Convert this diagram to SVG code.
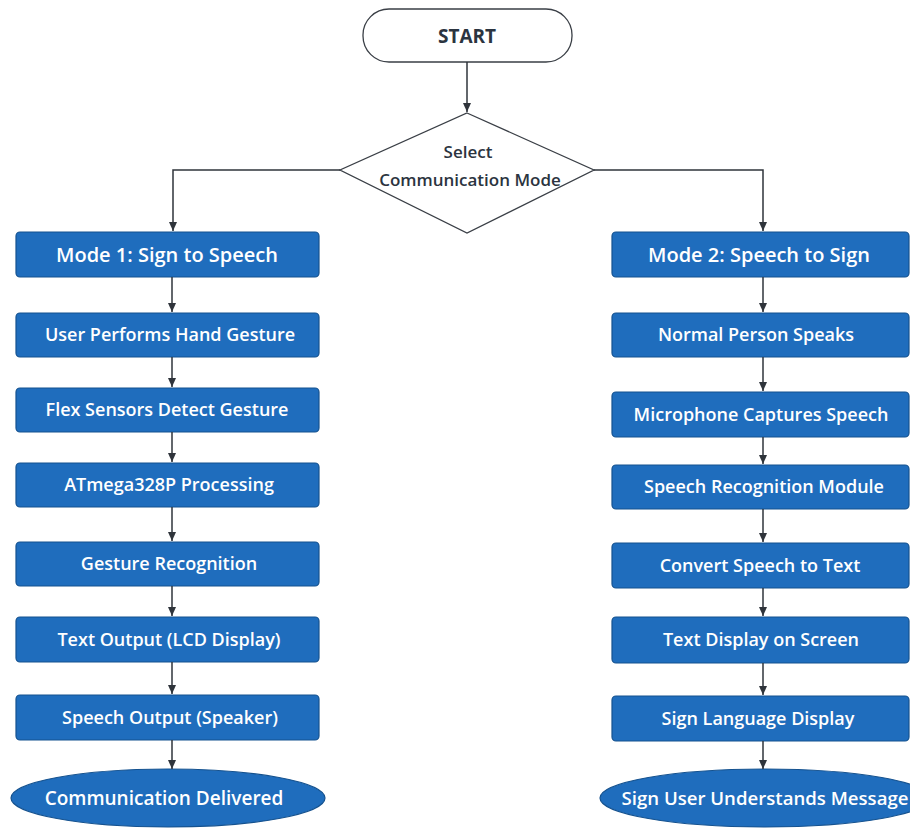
<svg xmlns="http://www.w3.org/2000/svg" width="910" height="828" viewBox="0 0 910 828">
<defs>
<marker id="arr" markerWidth="10" markerHeight="10" refX="9" refY="5" orient="auto" markerUnits="userSpaceOnUse">
<path d="M0,1 L9,5 L0,9 Z" fill="#2f343b"/>
</marker>
<style>
.box{fill:#1f6dbd;stroke:#15528f;stroke-width:1.2}
.lbl{font-family:"Open Sans","Noto Sans","Liberation Sans",sans-serif;font-weight:600;font-size:18px;fill:#ffffff;text-anchor:middle}
.hdr{font-size:20px}
.big{font-size:19px}
.dark{fill:#2b3440;font-size:17px}
.term{fill:#ffffff;stroke:#3a3f46;stroke-width:1.3}
.conn path{fill:none;stroke:#2f343b;stroke-width:1.5;marker-end:url(#arr)}
</style>
</defs>
<rect width="910" height="828" fill="#ffffff"/>
<g id="start">
<rect class="term" x="363" y="9" width="209" height="53" rx="26"/>
<text class="lbl dark" x="467" y="43" style="font-weight:700;font-size:19px">START</text>
</g>
<g id="select">
<polygon class="term" points="467,113 594,170 467,233 340,170"/>
<text class="lbl dark" x="468" y="158">Select</text>
<text class="lbl dark" x="470" y="186">Communication Mode</text>
</g>
<g id="m1">
<rect class="box" x="16" y="232" width="303" height="45" rx="4"/>
<text class="lbl hdr" x="167" y="262">Mode 1: Sign to Speech</text>
</g>
<g id="l1">
<rect class="box" x="16" y="313" width="303" height="44" rx="4"/>
<text class="lbl" x="170" y="341">User Performs Hand Gesture</text>
</g>
<g id="l2">
<rect class="box" x="16" y="388" width="303" height="44" rx="4"/>
<text class="lbl" x="167" y="416">Flex Sensors Detect Gesture</text>
</g>
<g id="l3">
<rect class="box" x="16" y="463" width="303" height="44" rx="4"/>
<text class="lbl" x="169" y="491">ATmega328P Processing</text>
</g>
<g id="l4">
<rect class="box" x="16" y="542" width="303" height="44" rx="4"/>
<text class="lbl" x="169" y="570">Gesture Recognition</text>
</g>
<g id="l5">
<rect class="box" x="16" y="617" width="303" height="45" rx="4"/>
<text class="lbl" x="169" y="646">Text Output (LCD Display)</text>
</g>
<g id="l6">
<rect class="box" x="16" y="695" width="303" height="45" rx="4"/>
<text class="lbl" x="170" y="724">Speech Output (Speaker)</text>
</g>
<g id="l7">
<ellipse class="box" cx="168" cy="798" rx="157" ry="29"/>
<text class="lbl big" x="164" y="805">Communication Delivered</text>
</g>
<g id="m2">
<rect class="box" x="612" y="232" width="297" height="45" rx="4"/>
<text class="lbl hdr" x="759" y="262">Mode 2: Speech to Sign</text>
</g>
<g id="r1">
<rect class="box" x="612" y="313" width="297" height="44" rx="4"/>
<text class="lbl" x="756" y="341">Normal Person Speaks</text>
</g>
<g id="r2">
<rect class="box" x="612" y="392" width="297" height="45" rx="4"/>
<text class="lbl" x="761" y="421">Microphone Captures Speech</text>
</g>
<g id="r3">
<rect class="box" x="612" y="465" width="297" height="44" rx="4"/>
<text class="lbl" x="764" y="493">Speech Recognition Module</text>
</g>
<g id="r4">
<rect class="box" x="612" y="543" width="297" height="45" rx="4"/>
<text class="lbl" x="760" y="572">Convert Speech to Text</text>
</g>
<g id="r5">
<rect class="box" x="612" y="617" width="297" height="46" rx="4"/>
<text class="lbl" x="761" y="646">Text Display on Screen</text>
</g>
<g id="r6">
<rect class="box" x="612" y="696" width="297" height="45" rx="4"/>
<text class="lbl" x="758" y="725">Sign Language Display</text>
</g>
<g id="r7">
<ellipse class="box" cx="765" cy="798" rx="165" ry="29"/>
<text class="lbl" x="765" y="805" style="font-size:18.6px">Sign User Understands Message</text>
</g>
<g id="connectors" class="conn">
<path d="M467,62 L467,112"/>
<path d="M340,170 L173,170 L173,231"/>
<path d="M594,170 L763,170 L763,231"/>
<path d="M172,277 L172,312"/>
<path d="M172,357 L172,387"/>
<path d="M172,432 L172,462"/>
<path d="M172,507 L172,541"/>
<path d="M172,586 L172,616"/>
<path d="M172,662 L172,694"/>
<path d="M172,740 L172,769"/>
<path d="M763,277 L763,312"/>
<path d="M763,357 L763,391"/>
<path d="M763,437 L763,464"/>
<path d="M763,509 L763,542"/>
<path d="M763,588 L763,616"/>
<path d="M763,663 L763,695"/>
<path d="M763,741 L763,769"/>
</g>
</svg>
